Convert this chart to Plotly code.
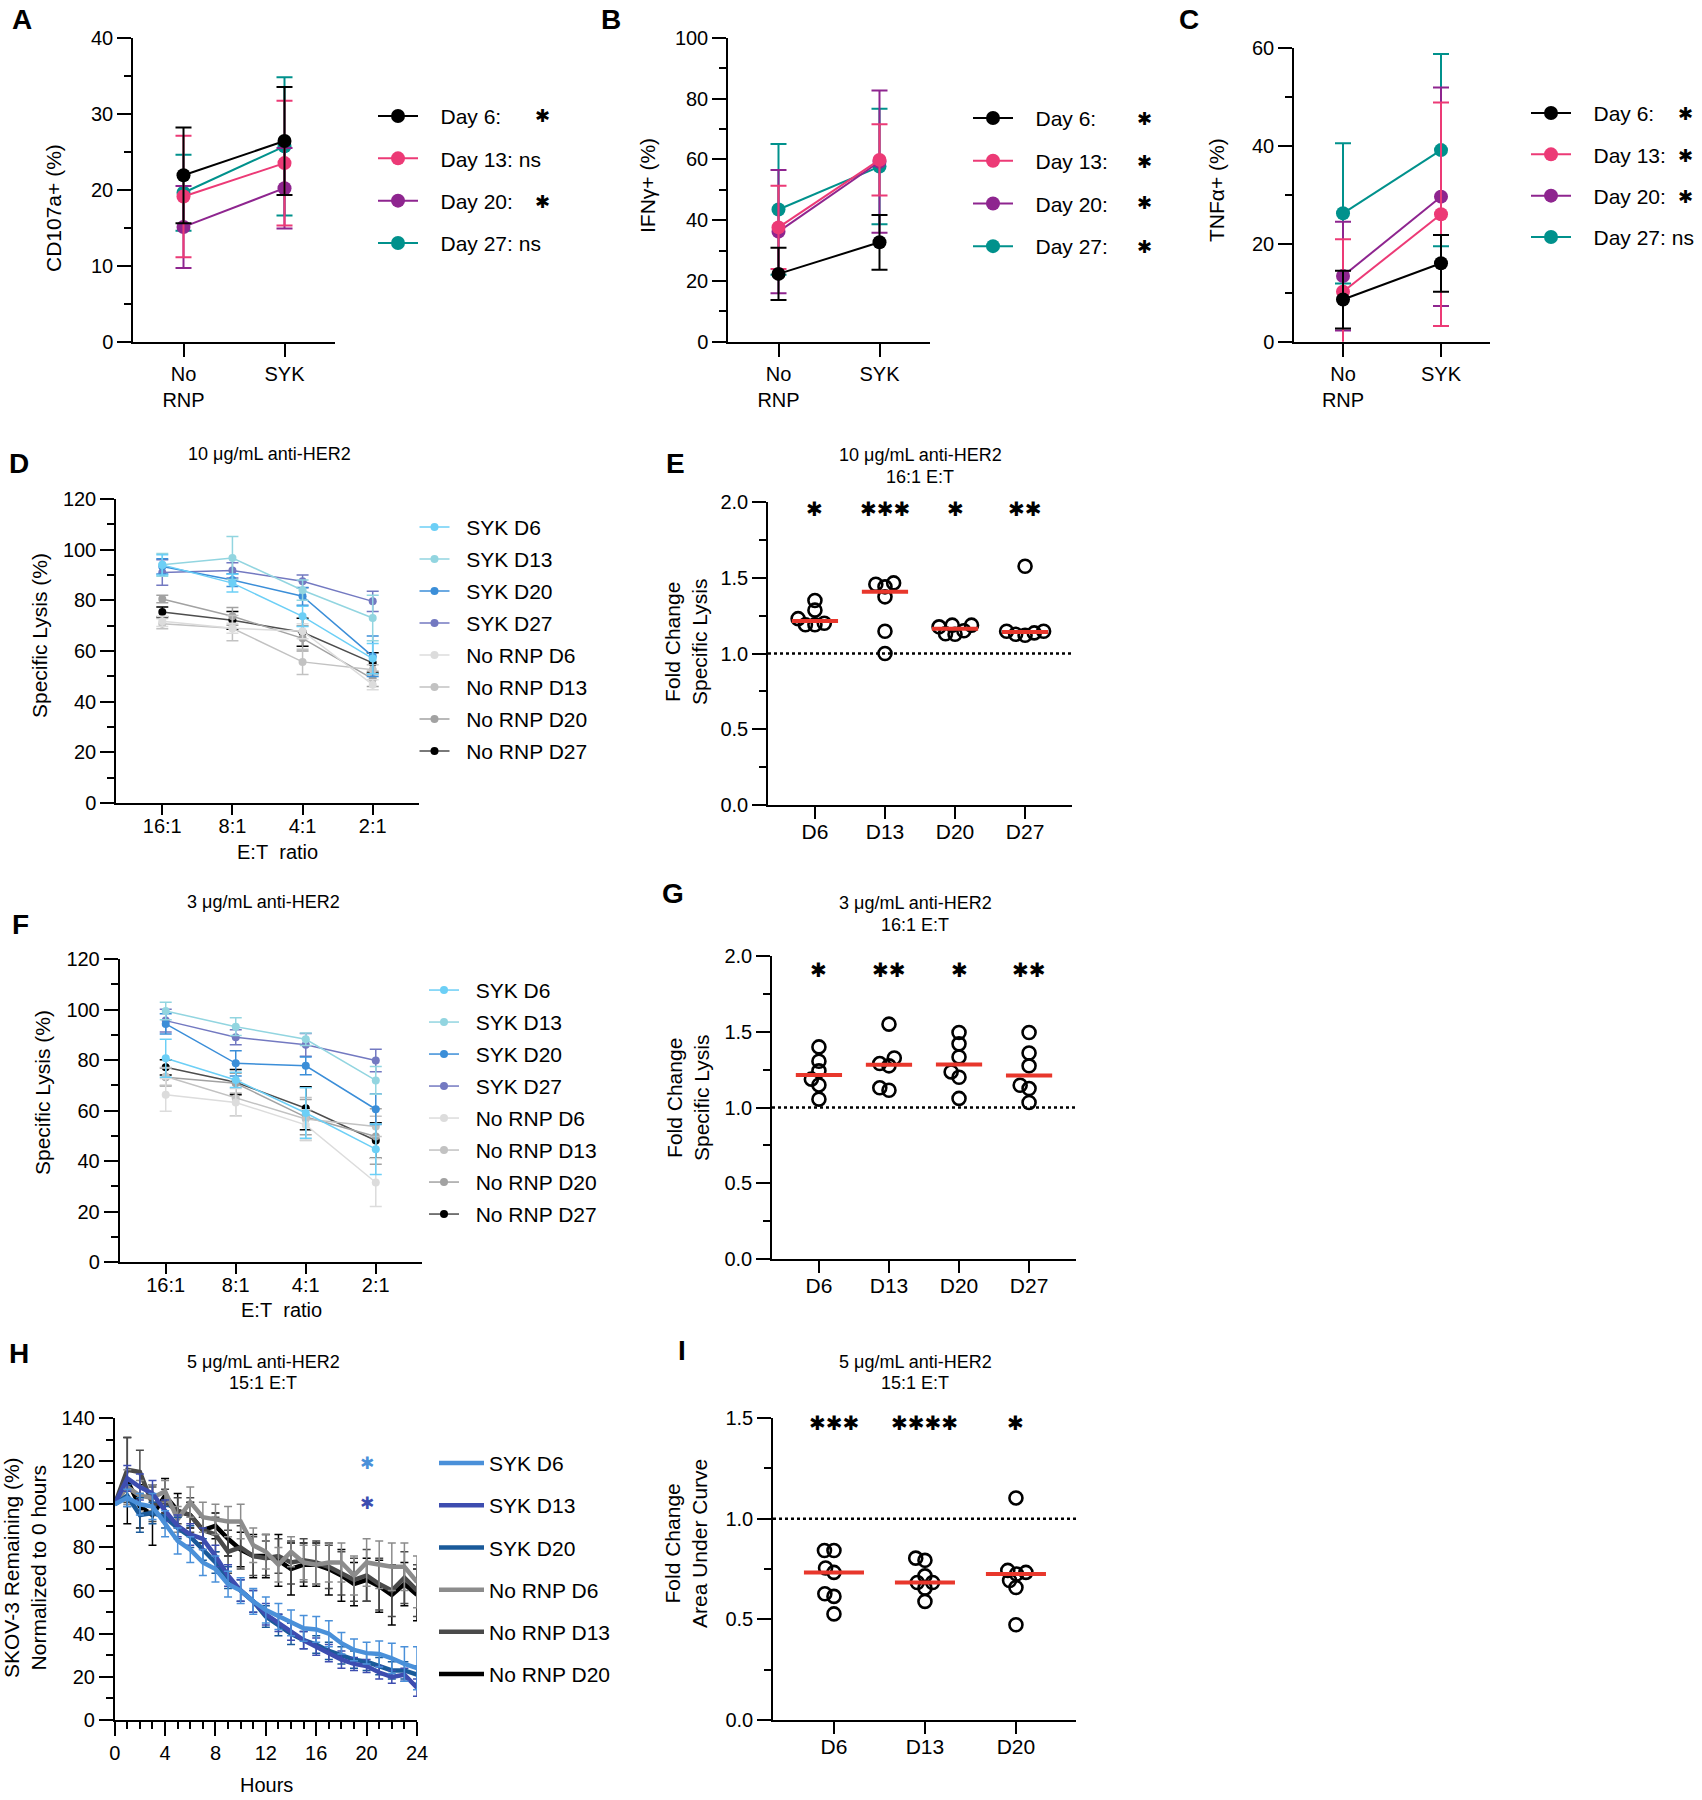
import numpy as np
import plotly.graph_objects as go

W, H = 1702, 1800
FONT = "Arial, Liberation Sans, Helvetica, sans-serif"
STAR_FONT = "DejaVu Sans"

# ----------------------------------------------------------------- DATA
# Panels A-C: mean and SD, [No RNP, SYK]
abc_groups = ["No<br>RNP", "SYK"]
abc_days = ["Day 6:", "Day 13:", "Day 20:", "Day 27:"]

cd107_day6 = [21.9, 26.4]
cd107_day13 = [19.1, 23.5]
cd107_day20 = [15.1, 20.2]
cd107_day27 = [19.6, 25.7]
cd107_day6_sd = [6.3, 7.1]
cd107_day13_sd = [8.0, 8.2]
cd107_day20_sd = [5.4, 5.3]
cd107_day27_sd = [5.0, 9.1]
cd107_sig = ["✱", "ns", "✱", "ns"]

ifng_day6 = [22.3, 32.7]
ifng_day13 = [37.6, 59.8]
ifng_day20 = [36.2, 59.2]
ifng_day27 = [43.5, 57.6]
ifng_day6_sd = [8.6, 9.0]
ifng_day13_sd = [13.7, 11.7]
ifng_day20_sd = [20.3, 23.4]
ifng_day27_sd = [21.5, 19.0]
ifng_sig = ["✱", "✱", "✱", "✱"]

tnfa_day6 = [8.6, 16.0]
tnfa_day13 = [10.2, 26.0]
tnfa_day20 = [13.4, 29.6]
tnfa_day27 = [26.2, 39.1]
tnfa_day6_sd = [5.9, 5.8]
tnfa_day13_sd = [10.7, 22.8]
tnfa_day20_sd = [11.1, 22.3]
tnfa_day27_sd = [14.3, 19.6]
tnfa_sig = ["✱", "✱", "✱", "ns"]

# Panels D, F: specific lysis by E:T ratio
et_ratios = ["16:1", "8:1", "4:1", "2:1"]
lysis_names = ["SYK D6", "SYK D13", "SYK D20", "SYK D27",
               "No RNP D6", "No RNP D13", "No RNP D20", "No RNP D27"]

d_syk_d6 = [94.0, 86.8, 73.7, 57.0]
d_syk_d13 = [94.0, 96.7, 84.0, 73.0]
d_syk_d20 = [93.4, 88.0, 81.6, 57.9]
d_syk_d27 = [91.0, 91.8, 87.5, 79.6]
d_no_d6 = [71.7, 69.0, 67.8, 46.7]
d_no_d13 = [70.8, 69.0, 55.7, 52.6]
d_no_d20 = [80.5, 73.7, 65.0, 49.0]
d_no_d27 = [75.4, 72.1, 67.4, 55.3]
d_syk_d6_sd = [4.0, 3.5, 4.0, 6.0]
d_syk_d13_sd = [4.5, 8.5, 4.0, 9.0]
d_syk_d20_sd = [3.0, 2.5, 3.5, 8.0]
d_syk_d27_sd = [5.0, 3.0, 2.5, 4.0]
d_no_d6_sd = [2.0, 2.0, 3.0, 2.0]
d_no_d13_sd = [2.0, 5.0, 5.0, 2.0]
d_no_d20_sd = [1.5, 3.5, 5.0, 3.0]
d_no_d27_sd = [2.0, 3.5, 5.5, 4.0]

f_syk_d6 = [80.7, 72.1, 59.0, 44.7]
f_syk_d13 = [99.4, 93.2, 88.2, 71.9]
f_syk_d20 = [94.3, 78.7, 77.7, 60.5]
f_syk_d27 = [95.6, 89.0, 86.0, 79.8]
f_no_d6 = [66.2, 63.2, 54.3, 31.5]
f_no_d13 = [73.5, 64.9, 56.6, 53.7]
f_no_d20 = [73.2, 70.8, 57.4, 49.7]
f_no_d27 = [77.1, 71.2, 60.9, 48.1]
f_syk_d6_sd = [7.5, 3.0, 10.0, 10.0]
f_syk_d13_sd = [3.5, 3.5, 2.5, 5.5]
f_syk_d20_sd = [4.0, 5.0, 3.5, 6.0]
f_syk_d27_sd = [4.5, 3.0, 4.5, 4.5]
f_no_d6_sd = [6.5, 5.5, 6.0, 9.5]
f_no_d13_sd = [3.5, 7.0, 8.5, 4.0]
f_no_d20_sd = [3.5, 4.0, 7.0, 11.0]
f_no_d27_sd = [3.0, 5.0, 8.5, 7.0]

# Panels E, G: fold change specific lysis (16:1 E:T)
fc_days = ["D6", "D13", "D20", "D27"]
e_d6 = [1.286, 1.19, 1.23, 1.35, 1.19, 1.20]
e_d13 = [1.466, 1.457, 1.44, 1.374, 1.147, 1.0]
e_d20 = [1.13, 1.187, 1.176, 1.127, 1.187, 1.15]
e_d27 = [1.127, 1.147, 1.136, 1.147, 1.12, 1.576]
e_sig = ["✱", "✱✱✱", "✱", "✱✱"]

g_d6 = [1.305, 1.40, 1.187, 1.242, 1.149, 1.055]
g_d13 = [1.327, 1.55, 1.275, 1.29, 1.114, 1.13]
g_d20 = [1.42, 1.495, 1.334, 1.235, 1.20, 1.06]
g_d27 = [1.495, 1.36, 1.275, 1.147, 1.125, 1.033]
g_sig = ["✱", "✱✱", "✱", "✱✱"]

# Panel H: SKOV-3 remaining (%) over 24 h
hours = list(range(25))
kin_names = ["SYK D6", "SYK D13", "SYK D20", "No RNP D6", "No RNP D13", "No RNP D20"]
h_syk_d6 = [100, 103, 100, 99, 91, 83, 79, 73, 70, 63, 60, 55, 51, 48, 45, 42.5,
            42, 40, 35.6, 32.5, 31, 30.6, 28.6, 26, 24]
h_syk_d13 = [100, 112, 108, 105, 97, 90, 86, 84, 76, 67, 60, 55, 49, 45, 41, 37,
             34, 31, 28, 26, 25, 22, 20, 21, 15]
h_syk_d20 = [100, 104, 95, 96, 94, 89, 85, 79, 73, 66, 60, 55, 48, 44, 40, 37,
             35, 32, 30, 28, 27, 25, 23, 23, 21]
h_no_d6 = [100, 108, 104, 103, 106, 93, 101, 94, 93, 92, 92, 81, 78, 72, 78, 73,
           72, 73, 73, 67, 73, 72, 71, 71, 64]
h_no_d13 = [100, 116, 115, 100, 101, 97, 95, 88, 86, 78, 80, 76, 75, 76, 73, 74,
            73, 71, 68, 65, 67, 63, 60, 66, 60]
h_no_d20 = [100, 111, 99, 95, 104, 97, 95, 88, 90, 84, 79, 76, 76, 74, 70, 72,
            72, 70, 67, 63, 65, 62, 58, 63, 58]
h_syk_d6_sd = [0, 4, 5, 6, 6, 6, 6, 6, 6, 6, 6, 6, 6, 6, 6, 6, 6, 6, 5, 5, 5, 6, 7, 8, 10]
h_syk_d13_sd = [0, 6, 6, 6, 5, 5, 5, 5, 5, 5, 5, 5, 5, 4, 4, 4, 4, 4, 4, 3, 3, 3, 3, 3, 4]
h_syk_d20_sd = [0, 5, 8, 5, 5, 5, 5, 5, 5, 5, 5, 5, 5, 5, 5, 4, 4, 4, 4, 4, 4, 4, 4, 4, 4]
h_no_d6_sd = [0, 8, 7, 6, 5, 6, 7, 7, 7, 7, 8, 8, 8, 8, 7, 8, 9, 9, 9, 9, 11, 11, 11, 11, 12]
h_no_d13_sd = [0, 15, 10, 8, 6, 6, 8, 6, 8, 10, 10, 9, 8, 8, 10, 10, 10, 10, 10, 10, 12, 12, 12, 12, 12]
h_no_d20_sd = [0, 20, 10, 14, 8, 8, 6, 6, 6, 8, 8, 10, 10, 12, 12, 10, 10, 12, 12, 10, 10, 12, 14, 10, 12]
h_sig = ["✱", "✱"]
h_sig_hour = [20, 20]
h_sig_level = [119.1, 100.6]

# Panel I: fold change area under curve
auc_days = ["D6", "D13", "D20"]
i_d6 = [0.842, 0.842, 0.755, 0.733, 0.627, 0.614, 0.527]
i_d13 = [0.804, 0.793, 0.716, 0.683, 0.683, 0.655, 0.589]
i_d20 = [1.103, 0.743, 0.733, 0.725, 0.693, 0.658, 0.473]
i_sig = ["✱✱✱", "✱✱✱✱", "✱"]

# ----------------------------------------------------------------- STYLE
abc_colors = ["#000000", "#ec3a76", "#8e258f", "#00918c"]
lysis_colors = ["#6ccff6", "#92d5e0", "#3b8ed8", "#7379c1",
                "#dcdcdc", "#c2c2c2", "#a2a2a2", "#000000"]
lysis_line_colors = ["#6ccff6", "#92d5e0", "#3b8ed8", "#7379c1",
                     "#dcdcdc", "#c2c2c2", "#a2a2a2", "#4d4d4d"]
kin_colors = ["#4a90d9", "#3d4db0", "#1a5a9a", "#8c8c8c", "#4a4a4a", "#000000"]
MEDIAN_RED = "#e8372c"

fig = go.Figure()
layout = {}
annotations = []
shapes = []


def refs(i):
    return ("x" if i == 1 else f"x{i}", "y" if i == 1 else f"y{i}")


def axis_base(size):
    return dict(showline=True, linecolor="black", linewidth=1.5, ticks="outside",
                ticklen=14, tickwidth=1.5, tickcolor="black", showgrid=False,
                zeroline=False, fixedrange=True, automargin=False,
                tickfont=dict(family=FONT, size=size, color="black"))


def add_axes(i, x0, x1, ytop, ybot, xcfg, ycfg, xsize, ysize):
    xr, yr = refs(i)
    xa = axis_base(xsize)
    xa.update(domain=[x0 / W, x1 / W], anchor=yr)
    xa.update(xcfg)
    ya = axis_base(ysize)
    ya.update(domain=[1 - ybot / H, 1 - ytop / H], anchor=xr)
    ya.update(ycfg)
    layout["xaxis" if i == 1 else f"xaxis{i}"] = xa
    layout["yaxis" if i == 1 else f"yaxis{i}"] = ya


def minor(d):
    return dict(dtick=d, ticklen=7, tickwidth=1.5, tickcolor="black", ticks="outside")


def text(x, y, s, size, bold=False, angle=0, color="black", family=FONT):
    if bold:
        s = f"<b>{s}</b>"
    annotations.append(dict(x=x / W, y=1 - y / H, xref="paper", yref="paper", text=s,
                            showarrow=False, textangle=angle, xanchor="center", yanchor="middle",
                            font=dict(family=family, size=size, color=color)))


def legend_cfg(x, ytop, size, gap, itemwidth=30):
    return dict(x=x / W, y=1 - ytop / H, xanchor="left", yanchor="top",
                bgcolor="rgba(0,0,0,0)", borderwidth=0, tracegroupgap=gap,
                itemwidth=itemwidth, font=dict(family=FONT, size=size, color="black"),
                itemclick=False, itemdoubleclick=False)


NB = "\u00a0"

# ----------------------------------------------------------------- A, B, C
abc_panels = [
    (1, "legend", [cd107_day6, cd107_day13, cd107_day20, cd107_day27],
     [cd107_day6_sd, cd107_day13_sd, cd107_day20_sd, cd107_day27_sd], cd107_sig,
     (133, 335, 37.7, 341.7), [0, 40], 10, 5, "CD107a+ (%)", (54, 208),
     (373, 95.9, 12), [116, 158, 201, 243], 542),
    (2, "legend2", [ifng_day6, ifng_day13, ifng_day20, ifng_day27],
     [ifng_day6_sd, ifng_day13_sd, ifng_day20_sd, ifng_day27_sd], ifng_sig,
     (728, 930, 37.7, 341.7), [0, 100], 20, 10, "IFNγ+ (%)", (648, 186),
     (968, 97.9, 12.4), [118, 161, 203, 246], 1144),
    (3, "legend3", [tnfa_day6, tnfa_day13, tnfa_day20, tnfa_day27],
     [tnfa_day6_sd, tnfa_day13_sd, tnfa_day20_sd, tnfa_day27_sd], tnfa_sig,
     (1294, 1490, 47.7, 341.7), [0, 60], 20, 10, "TNFα+ (%)", (1217, 190),
     (1526, 92.9, 11), [113, 155, 196, 237], 1685),
]
abc_x = list(range(len(abc_groups)))
for (i, leg, means, sds, sig, box, yrange, dt, mdt, ytitle, tpos, lpos, rows, starx) in abc_panels:
    xr, yr = refs(i)
    for k in reversed(range(4)):
        c = abc_colors[k]
        name = NB * 3 + abc_days[k] + (" ns" if sig[k] == "ns" else "")
        fig.add_trace(go.Scatter(
            x=abc_x, y=means[k], xaxis=xr, yaxis=yr, mode="lines+markers",
            line=dict(color=c, width=2), marker=dict(size=14, color=c),
            error_y=dict(type="data", array=sds[k], color=c, thickness=2, width=8),
            name=name, legend=leg, legendrank=k + 1, legendgroup=f"{leg}_{k}"))
        if sig[k] != "ns":
            text(starx, rows[k], sig[k], 18, family=STAR_FONT)
    add_axes(i, box[0], box[1], box[2], box[3],
             dict(range=[-0.5, 1.5], tickvals=abc_x, ticktext=abc_groups),
             dict(range=yrange, dtick=dt, tick0=0, minor=minor(mdt)), 20, 20)
    text(tpos[0], tpos[1], ytitle, 21, angle=-90)
    layout[leg] = legend_cfg(lpos[0], lpos[1], 21, lpos[2], itemwidth=40)

# ----------------------------------------------------------------- D, F
lysis_panels = [
    (4, "legend4",
     [d_syk_d6, d_syk_d13, d_syk_d20, d_syk_d27, d_no_d6, d_no_d13, d_no_d20, d_no_d27],
     [d_syk_d6_sd, d_syk_d13_sd, d_syk_d20_sd, d_syk_d27_sd,
      d_no_d6_sd, d_no_d13_sd, d_no_d20_sd, d_no_d27_sd],
     (116, 419, 499, 803), (40, 636), (277, 852), (269, 454, "10 μg/mL anti-HER2"),
     (414.5, 506.9)),
    (6, "legend5",
     [f_syk_d6, f_syk_d13, f_syk_d20, f_syk_d27, f_no_d6, f_no_d13, f_no_d20, f_no_d27],
     [f_syk_d6_sd, f_syk_d13_sd, f_syk_d20_sd, f_syk_d27_sd,
      f_no_d6_sd, f_no_d13_sd, f_no_d20_sd, f_no_d27_sd],
     (119.5, 422, 959, 1262), (42, 1093), (281, 1310), (263, 902, "3 μg/mL anti-HER2"),
     (424, 969.9)),
]
et_x = list(range(len(et_ratios)))
for (i, leg, means, sds, box, ytp, xtp, ttl, lpos) in lysis_panels:
    xr, yr = refs(i)
    for k in reversed(range(8)):
        fig.add_trace(go.Scatter(
            x=et_x, y=means[k], xaxis=xr, yaxis=yr, mode="lines+markers",
            line=dict(color=lysis_line_colors[k], width=1.5),
            marker=dict(size=8, color=lysis_colors[k]),
            error_y=dict(type="data", array=sds[k], color=lysis_colors[k],
                         thickness=1.5, width=6),
            name=NB * 2 + lysis_names[k], legend=leg, legendrank=k + 1,
            legendgroup=f"{leg}_{k}"))
    add_axes(i, box[0], box[1], box[2], box[3],
             dict(range=[-0.66, 3.66], tickvals=et_x, ticktext=et_ratios,
                  ticklen=10, ticklabelstandoff=-6),
             dict(range=[0, 120], dtick=20, tick0=0, minor=minor(10)), 20, 20)
    text(ytp[0], ytp[1], "Specific Lysis (%)", 21, angle=-90)
    text(xtp[0], xtp[1], "E:T" + NB + NB + "ratio", 20)
    text(ttl[0], ttl[1], ttl[2], 18)
    layout[leg] = legend_cfg(lpos[0], lpos[1], 21, 1.7, itemwidth=30)


# ----------------------------------------------------------------- E, G, I
def swarm_offsets(vals, ypx, xpx, diam=9.5):
    vals = np.asarray(vals, dtype=float)
    order = np.argsort(vals)
    placed = []
    out = np.zeros(len(vals))
    for idx in order:
        y = vals[idx] * ypx
        cands = [0.0]
        for (px_, py_) in placed:
            dy = abs(py_ - y)
            if dy < diam:
                dx = np.sqrt(diam ** 2 - dy ** 2)
                cands += [px_ + dx, px_ - dx]
        cands.sort(key=lambda c: (abs(c), c))
        for c in cands:
            if all((c - px_) ** 2 + (y - py_) ** 2 >= diam ** 2 - 1e-6 for px_, py_ in placed):
                out[idx] = c
                placed.append((c, y))
                break
    return out / xpx


fc_panels = [
    (5, [e_d6, e_d13, e_d20, e_d27], fc_days, e_sig, 1.956,
     (768, 1072, 502, 805), [0, 2.0], [-0.67, 3.67],
     "Fold Change<br>Specific Lysis", (686, 642),
     ["10 μg/mL anti-HER2", "16:1 E:T"], (920, 455, 477)),
    (7, [g_d6, g_d13, g_d20, g_d27], fc_days, g_sig, 1.91,
     (772, 1076, 956, 1259), [0, 2.0], [-0.67, 3.67],
     "Fold Change<br>Specific Lysis", (688, 1098),
     ["3 μg/mL anti-HER2", "16:1 E:T"], (915, 903, 925)),
    (9, [i_d6, i_d13, i_d20], auc_days, i_sig, 1.476,
     (773, 1076, 1418, 1720), [0, 1.5], [-0.67, 2.66],
     "Fold Change<br>Area Under Curve", (686, 1544),
     ["5 μg/mL anti-HER2", "15:1 E:T"], (915, 1362, 1383)),
]
for (i, groups, labels, sig, sigy, box, yrange, xrange, ytitle, ytp, ttl, tpos) in fc_panels:
    xr, yr = refs(i)
    ypx = (box[3] - box[2]) / (yrange[1] - yrange[0])
    xpx = (box[1] - box[0]) / (xrange[1] - xrange[0])
    shapes.append(dict(type="line", xref=f"{xr} domain", yref=yr, x0=0, x1=1, y0=1, y1=1,
                       line=dict(color="black", width=2.5, dash="dot"), layer="below"))
    for g, vals in enumerate(groups):
        offs = swarm_offsets(vals, ypx, xpx)
        fig.add_trace(go.Scatter(
            x=g + offs, y=vals, xaxis=xr, yaxis=yr, mode="markers", showlegend=False,
            marker=dict(symbol="circle-open", size=13, color="black", line=dict(width=2.6))))
        med = float(np.median(vals))
        fig.add_trace(go.Scatter(
            x=[g - 0.33, g + 0.33], y=[med, med], xaxis=xr, yaxis=yr, mode="lines",
            showlegend=False, line=dict(color=MEDIAN_RED, width=4)))
        annotations.append(dict(x=g, y=sigy, xref=xr, yref=yr, text=sig[g], showarrow=False,
                                font=dict(family=STAR_FONT, size=20, color="black")))
    add_axes(i, box[0], box[1], box[2], box[3],
             dict(range=xrange, tickvals=list(range(len(groups))), ticktext=labels,
                  ticklen=12, ticklabelstandoff=-5),
             dict(range=yrange, dtick=0.5, tick0=0, tickformat=".1f", minor=minor(0.25)), 21, 20)
    text(ytp[0], ytp[1], ytitle, 21, angle=-90)
    text(tpos[0], tpos[1], ttl[0], 18)
    text(tpos[0], tpos[2], ttl[1], 18)

# ----------------------------------------------------------------- H
h_means = [h_syk_d6, h_syk_d13, h_syk_d20, h_no_d6, h_no_d13, h_no_d20]
h_sds = [h_syk_d6_sd, h_syk_d13_sd, h_syk_d20_sd, h_no_d6_sd, h_no_d13_sd, h_no_d20_sd]
xr, yr = refs(8)
for k in reversed(range(6)):
    c = kin_colors[k]
    fig.add_trace(go.Scatter(
        x=hours, y=h_means[k], xaxis=xr, yaxis=yr, mode="lines",
        line=dict(color=c, width=4.5),
        error_y=dict(type="data", array=h_sds[k], color=c, thickness=1.5, width=4),
        name=kin_names[k], legend="legend6", legendrank=k + 1, legendgroup=f"h_{k}"))
for j, s in enumerate(h_sig):
    annotations.append(dict(x=h_sig_hour[j], y=h_sig_level[j], xref=xr, yref=yr, text=s,
                            showarrow=False, font=dict(family=STAR_FONT, size=17,
                                                       color=kin_colors[j])))
add_axes(8, 114.7, 417, 1418, 1720,
         dict(range=[0, 24], dtick=4, tick0=0, minor=minor(1)),
         dict(range=[0, 140], dtick=20, tick0=0, minor=minor(10)), 20, 20)
text(25, 1568, "SKOV-3 Remaining (%)<br>Normalized to 0 hours", 21, angle=-90)
text(266, 1785, "Hours", 20)
text(263, 1362, "5 μg/mL anti-HER2", 18)
text(263, 1383, "15:1 E:T", 18)
layout["legend6"] = legend_cfg(434, 1442.9, 21, 11.9, itemwidth=45)

# ----------------------------------------------------------------- panel letters
for (lx, ly, s) in [(22, 20, "A"), (611, 20, "B"), (1189, 20, "C"), (19, 463, "D"),
                    (675, 463, "E"), (20, 925, "F"), (673, 893, "G"), (19, 1353, "H"),
                    (682, 1350, "I")]:
    text(lx, ly, s, 28, bold=True)

layout.update(width=W, height=H, margin=dict(l=0, r=0, t=0, b=0, pad=0, autoexpand=False),
              autosize=False, paper_bgcolor="white", plot_bgcolor="white",
              annotations=annotations, shapes=shapes,
              font=dict(family=FONT, color="black"))
fig.update_layout(**layout)
fig.write_html("out.html", config={"displayModeBar": False},
               post_script="document.body.style.margin='0px';"
                           "document.body.style.overflow='hidden';")
